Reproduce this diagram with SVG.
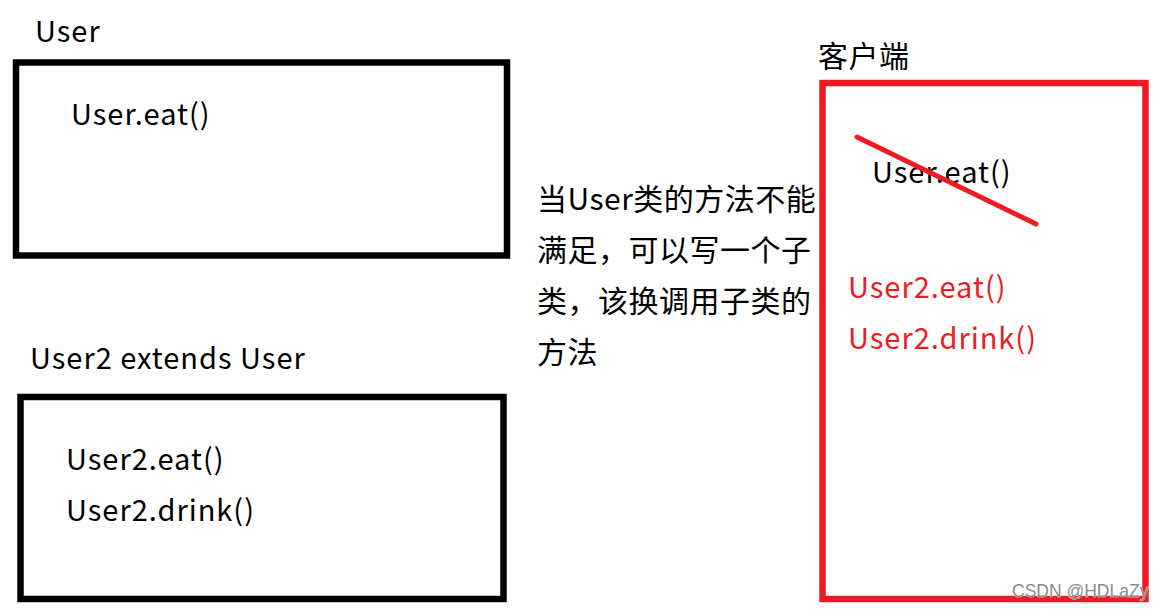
<svg xmlns="http://www.w3.org/2000/svg" width="1166" height="612" viewBox="0 0 1166 612">
<style>
text{font-family:"Noto Sans CJK SC","Noto Sans",sans-serif;font-size:29px;letter-spacing:1px;fill:#000}
.cjk{font-size:30px;letter-spacing:0.5px}
.red{fill:#ED1C24}
.box{fill:none;stroke:#000;stroke-width:6.5}
.rbox{fill:none;stroke:#ED1C24;stroke-width:6.5}
.wm{font-family:"Liberation Sans",sans-serif;font-size:17.5px;letter-spacing:0;fill:#8a8a8a;stroke:#fff;stroke-width:0.6;paint-order:stroke}
</style>
<rect width="1166" height="612" fill="#fff"/>
<g id="user">
<text x="35" y="42">User</text>
<rect class="box" x="16" y="62.5" width="491" height="193"/>
<text x="71" y="125">User.eat()</text>
</g>
<g id="user2">
<text x="30" y="369">User2 extends User</text>
<rect class="box" x="20.5" y="397" width="483" height="202"/>
<text x="66" y="470">User2.eat()</text>
<text x="66" y="521">User2.drink()</text>
</g>
<g id="note">
<text class="cjk" x="537" y="210">当User类的方法不能</text>
<text class="cjk" x="537" y="261">满足，可以写一个子</text>
<text class="cjk" x="537" y="312">类，该换调用子类的</text>
<text class="cjk" x="537" y="363">方法</text>
</g>
<g id="client">
<text class="cjk" x="818" y="67">客户端</text>
<rect class="rbox" x="822.5" y="83" width="323" height="516"/>
<text x="872" y="183">User.eat()</text>
<text class="red" x="848" y="298">User2.eat()</text>
<text class="red" x="848" y="349">User2.drink()</text>
</g>
<g id="connectors">
<line x1="857" y1="137" x2="1036" y2="224" stroke="#ED1C24" stroke-width="5" stroke-linecap="round"/>
</g>
<text class="wm" x="1012" y="597">CSDN @HDLaZy</text>
</svg>
